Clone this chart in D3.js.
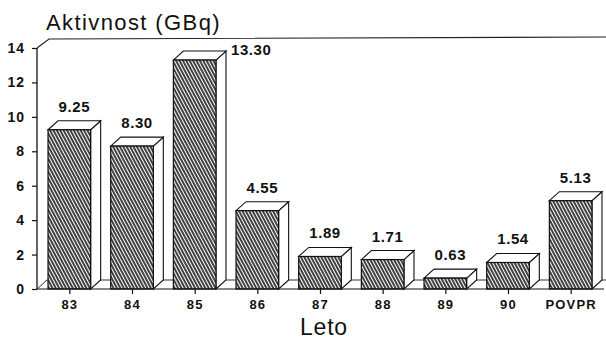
<!DOCTYPE html>
<html>
<head>
<meta charset="utf-8">
<script src="https://cdn.jsdelivr.net/npm/d3@7"></script>
<style>
  body { margin: 0; background: #fff; }
  text { font-family: "Liberation Sans", Arial, sans-serif; fill: #111; }
</style>
</head>
<body>
<div id="chart"></div>
<script>
// data
var years = ["83", "84", "85", "86", "87", "88", "89", "90", "POVPR"];
var activity = [9.25, 8.30, 13.30, 4.55, 1.89, 1.71, 0.63, 1.54, 5.13];
var valueLabels = ["9.25", "8.30", "13.30", "4.55", "1.89", "1.71", "0.63", "1.54", "5.13"];
var yTicks = [0, 2, 4, 6, 8, 10, 12, 14];

var W = 606, H = 344;
var plotLeft = 37, plotRight = 602, plotBottom = 289, plotTop = 48;
var dx = 10, dy = -9;   // 3d depth

var svg = d3.select("#chart")
  .append("svg")
  .attr("width", W)
  .attr("height", H);

// hatch pattern for the front faces
var pat = svg.append("defs").append("pattern")
  .attr("id", "hatch")
  .attr("width", 3)
  .attr("height", 3)
  .attr("patternUnits", "userSpaceOnUse")
  .attr("patternTransform", "rotate(-28)");
pat.append("rect").attr("width", 3).attr("height", 3).attr("fill", "#fff");
pat.append("line")
  .attr("x1", 1).attr("y1", 0).attr("x2", 1).attr("y2", 3)
  .attr("stroke", "#111").attr("stroke-width", 1.6);

var x = d3.scalePoint()
  .domain(years)
  .range([plotLeft + 1, plotRight])
  .padding(0.5);
var bw = x.step() * 0.68;

var y = d3.scaleLinear()
  .domain([0, 14])
  .range([plotBottom, plotTop]);

// back frame: top edge and left diagonal
svg.append("path")
  .attr("d", "M" + plotLeft + "," + plotTop + "L" + (plotLeft + 12) + "," + (plotTop + dy) + "L" + W + "," + (plotTop + dy - 2))
  .attr("fill", "none").attr("stroke", "#222").attr("stroke-width", 1.2);

// floor
svg.append("path")
  .attr("d", "M" + plotLeft + "," + plotBottom + "L" + (plotLeft + dx) + "," + (plotBottom + dy) + "L" + W + "," + (plotBottom + dy))
  .attr("fill", "none").attr("stroke", "#333").attr("stroke-width", 1);

// bars
var bars = svg.selectAll(".bar")
  .data(years)
  .enter()
  .append("g")
  .attr("class", "bar");

bars.each(function(d, i) {
  var g = d3.select(this);
  var x0 = x(d) - bw / 2, x1 = x(d) + bw / 2;
  var yt = y(activity[i]), yb = y(0);
  // side
  g.append("path")
    .attr("d", "M" + x1 + "," + yt + "L" + (x1 + dx) + "," + (yt + dy) + "L" + (x1 + dx) + "," + (yb + dy) + "L" + x1 + "," + yb + "Z")
    .attr("fill", "#fff").attr("stroke", "#111").attr("stroke-width", 1.1);
  // top
  g.append("path")
    .attr("d", "M" + x0 + "," + yt + "L" + (x0 + dx) + "," + (yt + dy) + "L" + (x1 + dx) + "," + (yt + dy) + "L" + x1 + "," + yt + "Z")
    .attr("fill", "#fff").attr("stroke", "#111").attr("stroke-width", 1.1);
  // front
  g.append("rect")
    .attr("x", x0)
    .attr("y", yt)
    .attr("width", bw)
    .attr("height", yb - yt)
    .attr("fill", "url(#hatch)")
    .attr("stroke", "#111").attr("stroke-width", 1.2);

  // value label
  var ly = yt + dy - 9;
  var lab = g.append("text")
    .style("font-size", "15px")
    .style("font-weight", "bold")
    .style("letter-spacing", "0.6px")
    .text(valueLabels[i]);
  if (ly < plotTop + 5) {
    lab.attr("x", x1 + dx + 5).attr("y", yt + dy + 4).attr("text-anchor", "start");
  } else {
    lab.attr("x", x(d) + dx / 2).attr("y", ly).attr("text-anchor", "middle");
  }
});

// x axis
var xAxis = svg.append("g")
  .attr("transform", "translate(0," + plotBottom + ")")
  .call(d3.axisBottom(x).tickSize(5).tickPadding(6));
xAxis.select(".domain").attr("d", "M" + plotLeft + ",0H" + (plotRight + 2)).attr("stroke", "#111").attr("stroke-width", 1.2);
xAxis.selectAll("line").attr("stroke", "#111").attr("stroke-width", 1.2);
xAxis.selectAll("text")
  .style("font-size", "13px")
  .style("font-weight", "bold")
  .style("letter-spacing", "1.2px")
  .style("font-family", "Liberation Sans, Arial, sans-serif");

// y axis
var yAxis = svg.append("g")
  .attr("transform", "translate(" + plotLeft + ",0)")
  .call(d3.axisLeft(y).tickValues(yTicks).tickFormat(d3.format("d")).tickSize(5).tickPadding(7));
yAxis.select(".domain").attr("d", "M0," + plotBottom + "V" + plotTop).attr("stroke", "#111").attr("stroke-width", 1.3);
yAxis.selectAll("line").attr("stroke", "#111").attr("stroke-width", 1.2);
yAxis.selectAll("text")
  .style("font-size", "14px")
  .style("font-weight", "bold")
  .style("letter-spacing", "1px")
  .style("font-family", "Liberation Sans, Arial, sans-serif");

// titles
svg.append("text")
  .attr("x", 46)
  .attr("y", 30)
  .style("font-size", "22px")
  .style("letter-spacing", "1.4px")
  .text("Aktivnost (GBq)");

svg.append("text")
  .attr("x", 300)
  .attr("y", 335)
  .style("font-size", "23px")
  .style("letter-spacing", "0.8px")
  .text("Leto");
</script>
</body>
</html>
